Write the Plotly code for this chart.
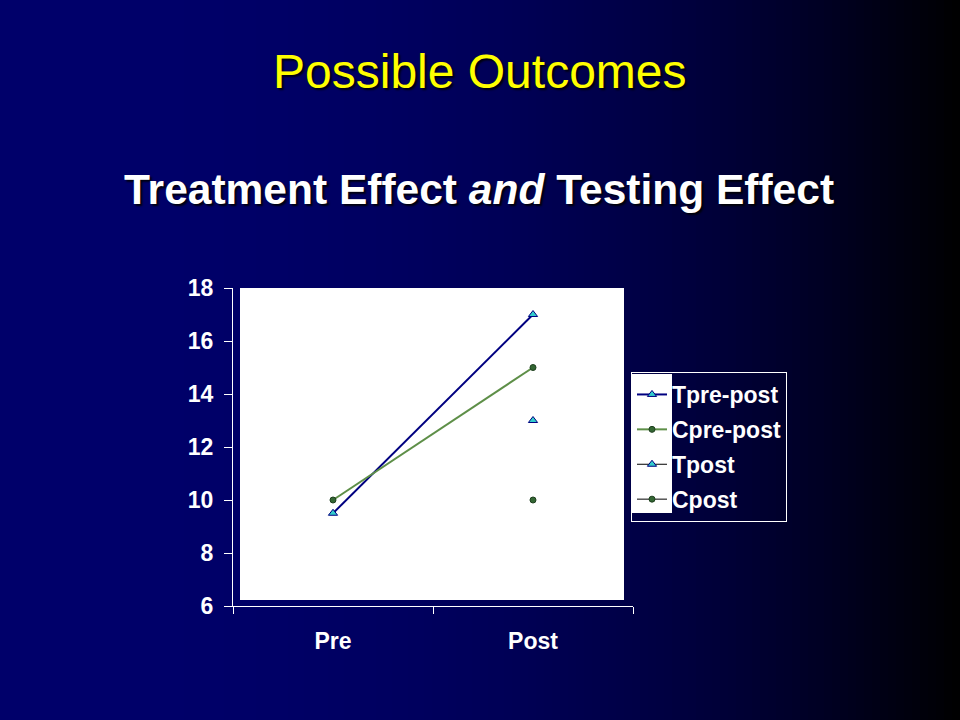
import plotly.graph_objects as go

# ---- data ----
categories = ["Pre", "Post"]
t_prepost = [9.5, 17]
c_prepost = [10, 15]
post_only = ["Post"]
t_post = [13]
c_post = [10]
y_ticks = [6, 8, 10, 12, 14, 16, 18]

FONT = "Liberation Sans, Arial, sans-serif"
W, H = 960, 720
L, R, T, B = 233, 633, 288, 606  # plot area in pixels


def px_x(p):
    return (p - L) / (R - L)


def px_y(p):
    return (B - p) / (B - T)


fig = go.Figure()

fig.add_trace(go.Scatter(
    x=categories, y=t_prepost, name="Tpre-post", mode="lines+markers",
    line=dict(color="#000080", width=2),
    marker=dict(symbol="triangle-up", size=8, color="#33CCCC",
                line=dict(color="#000080", width=1)),
    legendgroup="a"))
fig.add_trace(go.Scatter(
    x=categories, y=c_prepost, name="Cpre-post", mode="lines+markers",
    line=dict(color="#5E8F48", width=2),
    marker=dict(symbol="circle", size=6, color="#336633",
                line=dict(color="#1E3F1E", width=1)),
    legendgroup="b"))
fig.add_trace(go.Scatter(
    x=post_only, y=t_post, name="Tpost", mode="lines+markers",
    line=dict(color="#000000", width=1),
    marker=dict(symbol="triangle-up", size=8, color="#33CCCC",
                line=dict(color="#000080", width=1)),
    legendgroup="c"))
fig.add_trace(go.Scatter(
    x=post_only, y=c_post, name="Cpost", mode="lines+markers",
    line=dict(color="#000000", width=1),
    marker=dict(symbol="circle", size=6, color="#336633",
                line=dict(color="#1E3F1E", width=1)),
    legendgroup="d"))

shapes = []
# background gradient strips (navy -> black)
step = 8
for p in range(0, W, step):
    t = (p + step / 2) / W
    b = int(round(106 * (1 - t ** 2.6)))
    shapes.append(dict(type="rect", xref="paper", yref="paper",
                       x0=px_x(p), x1=px_x(p + step + 1),
                       y0=-0.6, y1=2.1, line=dict(width=0),
                       fillcolor=f"rgb(0,0,{max(b,0)})", layer="below"))
# white plot panel
shapes.append(dict(type="rect", xref="paper", yref="paper",
                   x0=px_x(240), x1=px_x(624), y0=px_y(600), y1=px_y(288),
                   line=dict(width=0), fillcolor="white", layer="below"))
# white symbol area of legend
shapes.append(dict(type="rect", xref="paper", yref="paper",
                   x0=px_x(632), x1=px_x(672), y0=px_y(513), y1=px_y(374),
                   line=dict(width=0), fillcolor="white", layer="below"))

fig.update_layout(
    width=W, height=H, autosize=False,
    margin=dict(l=L, r=W - R, t=T, b=H - B, pad=0),
    paper_bgcolor="#000066",
    plot_bgcolor="rgba(0,0,0,0)",
    shapes=shapes,
    font=dict(family=FONT, color="white", size=22),
    showlegend=True,
    legend=dict(
        x=px_x(631), y=px_y(372), xanchor="left", yanchor="top",
        bgcolor="rgba(0,0,0,0)", bordercolor="white", borderwidth=1,
        font=dict(family=FONT, size=23, color="white", weight="bold"),
        traceorder="grouped", tracegroupgap=2, itemwidth=30,
    ),
    xaxis=dict(
        type="category", categoryorder="array", categoryarray=categories,
        range=[-0.5, 1.5], tickson="boundaries",
        showline=True, linecolor="white", linewidth=1,
        ticks="outside", tickcolor="white", ticklen=7, tickwidth=1,
        showgrid=False, zeroline=False, ticklabelstandoff=14,
        tickfont=dict(family=FONT, size=23, color="white", weight="bold"),
    ),
    yaxis=dict(
        range=[6, 18], tickvals=y_ticks,
        showline=True, linecolor="white", linewidth=1,
        ticks="outside", tickcolor="white", ticklen=8, tickwidth=1,
        showgrid=False, zeroline=False, ticklabelstandoff=6,
        tickfont=dict(family=FONT, size=23, color="white", weight="bold"),
    ),
    annotations=[
        dict(text="Possible Outcomes", xref="paper", yref="paper",
             x=px_x(480), y=px_y(71), xanchor="center", yanchor="middle",
             showarrow=False,
             font=dict(family=FONT, size=48, color="#FFFF00",
                       shadow="2px 2px 2px rgba(0,0,0,0.85)")),
        dict(text="<b>Treatment Effect <i>and</i> Testing Effect</b>",
             xref="paper", yref="paper",
             x=px_x(479), y=px_y(189), xanchor="center", yanchor="middle",
             showarrow=False,
             font=dict(family=FONT, size=42.5, color="white",
                       shadow="2px 2px 2px rgba(0,0,0,0.85)")),
    ],
)

fig.write_html(
    "out.html",
    config={"displayModeBar": False},
    post_script="document.body.style.margin='0';document.body.style.overflow='hidden';",
)
